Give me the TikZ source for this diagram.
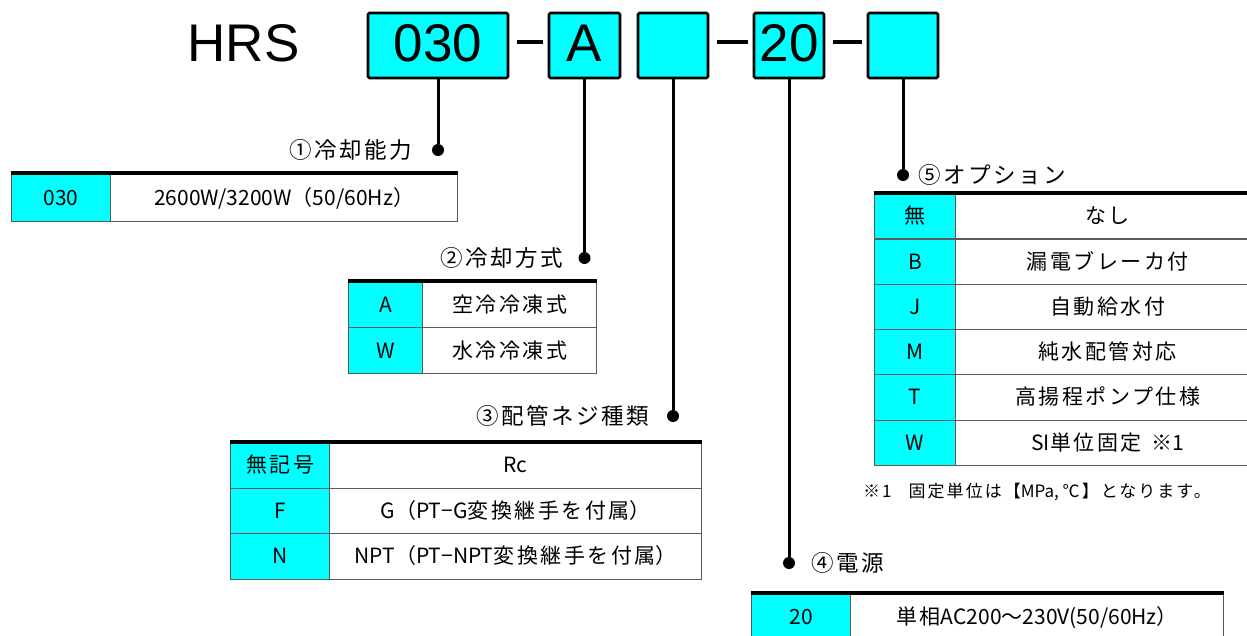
\documentclass[tikz,border=0pt]{standalone}
\usepackage{fontspec}
\setmainfont{Noto Sans CJK JP}
\newfontfamily\hrsfont{Liberation Sans}
\usepackage{tikz}
\usetikzlibrary{positioning}
\definecolor{aqua}{RGB}{0,255,255}
\definecolor{grisLinea}{RGB}{90,90,90}
\newcommand{\wj}[1]{{\addfontfeature{LetterSpace=12}#1}}
\newcommand{\codefont}{\hrsfont\fontsize{53}{60}\selectfont}
\newcommand{\tabfont}{\fontsize{21}{24}\selectfont}
\newcommand{\titlefont}{\fontsize{22.5}{26}\selectfont\addfontfeature{LetterSpace=11}}
\newcommand{\notefont}{\fontsize{17}{20}\selectfont}
\tikzstyle{codebox}=[rectangle, draw, line width=2.6pt, fill=aqua,
                    rounded corners=1.5pt, minimum height=65pt,
                    inner sep=0pt, text height=36pt, text depth=4pt,
                    font=\codefont]
\tikzstyle{hyph}  =[line width=4.5pt, shorten <=8pt, shorten >=5pt]
\tikzstyle{lead}  =[line width=3pt]
\tikzstyle{dot}   =[circle, fill=black, minimum size=12pt,
                    inner sep=0pt]
\tikzstyle{title} =[inner sep=0pt, text height=18pt, text depth=1pt,
                    font=\titlefont]
\tikzstyle{cell}  =[rectangle, draw=grisLinea, line width=1.2pt,
                    anchor=north west, inner sep=0pt,
                    text height=16pt, text depth=1pt, font=\tabfont]
\tikzstyle{keycell}=[cell, fill=aqua]
\tikzstyle{desccell}=[cell, fill=white]
\tikzstyle{topline}=[line width=3.2pt]
\begin{document}
\begin{tikzpicture}[x=1pt,y=-1pt]
    \useasboundingbox (0,0) rectangle (1247,635);
    \clip (0,0) rectangle (1247,635);

    % model code
    \draw (243.5,45.5) node (hrs) [inner sep=0pt, text height=36pt, text depth=4pt, font=\codefont] {HRS};
    \draw (438,45.5) node (c1) [codebox, minimum width=140pt] {030};
    \draw (584.5,45.5) node (c2) [codebox, minimum width=71pt] {A};
    \draw (673,45.5) node (c3) [codebox, minimum width=70pt] {};
    \draw (789,45.5) node (c4) [codebox, minimum width=70pt] {20};
    \draw (903,45.5) node (c5) [codebox, minimum width=70pt] {};

    \foreach \i/\j in {c1/c2,c3/c4,c4/c5}
        \draw [hyph] ([yshift=3.5pt]\i.east) -- ([yshift=3.5pt]\j.west);

    \draw (438,150) node (d1) [dot] {};
    \draw (584.5,258) node (d2) [dot] {};
    \draw (673,416) node (d3) [dot] {};
    \draw (789,563) node (d4) [dot] {};
    \draw (903,175) node (d5) [dot] {};

    \foreach \i/\j in {c1/d1,c2/d2,c3/d3,c4/d4,c5/d5}
        \draw [lead] (\i) -- (\j);

    \node (t1) [title, left=20pt of d1] {①冷却能力};
    \node (t2) [title, left=15pt of d2] {②冷却方式};
    \node (t3) [title, left=18pt of d3] {③配管ネジ種類};
    \node (t4) [title, right=16pt of d4] {④電源};
    \node (t5) [title, right=9pt of d5] {⑤オプション};

    % (1) cooling capacity
    \draw (11,173) node (k11) [keycell, minimum width=99pt, minimum height=48pt] {030};
    \draw (110,173) node (v11) [desccell, minimum width=347pt, minimum height=48pt] {2600W/3200W（50/60Hz）};
    \draw [topline] (k11.north west) -- (v11.north east);

    % (2) cooling method
    \draw (348,281) node (k21) [keycell, minimum width=74pt, minimum height=46pt] {A};
    \draw (422,281) node (v21) [desccell, minimum width=174pt, minimum height=46pt] {\wj{空冷冷凍式}};
    \draw (348,327) node (k22) [keycell, minimum width=74pt, minimum height=46pt] {W};
    \draw (422,327) node (v22) [desccell, minimum width=174pt, minimum height=46pt] {\wj{水冷冷凍式}};
    \draw [topline] (k21.north west) -- (v21.north east);

    % (3) piping thread
    \draw (230,442) node (k31) [keycell, minimum width=99pt, minimum height=45.5pt] {\wj{無記号}};
    \draw (329,442) node (v31) [desccell, minimum width=372pt, minimum height=45.5pt] {Rc};
    \draw (230,487.5) node (k32) [keycell, minimum width=99pt, minimum height=45.5pt] {F};
    \draw (329,487.5) node (v32) [desccell, minimum width=372pt, minimum height=45.5pt] {G（PT−G\wj{変換継手を付属}）};
    \draw (230,533) node (k33) [keycell, minimum width=99pt, minimum height=45.5pt] {N};
    \draw (329,533) node (v33) [desccell, minimum width=372pt, minimum height=45.5pt] {NPT（PT−NPT\wj{変換継手を付属}）};
    \draw [topline] (k31.north west) -- (v31.north east);

    % (4) power supply
    \draw (751,593) node (k41) [keycell, minimum width=99pt, minimum height=46pt] {20};
    \draw (850,593) node (v41) [desccell, minimum width=373pt, minimum height=46pt] {\wj{単相}AC200～230V(50/60Hz）};
    \draw [topline] (k41.north west) -- (v41.north east);

    % (5) options
    \draw (874,193) node (k51) [keycell, minimum width=81pt, minimum height=45.3pt] {\wj{無}};
    \draw (955,193) node (v51) [desccell, minimum width=304pt, minimum height=45.3pt] {\wj{なし}};
    \draw (874,238.3) node (k52) [keycell, minimum width=81pt, minimum height=45.3pt] {B};
    \draw (955,238.3) node (v52) [desccell, minimum width=304pt, minimum height=45.3pt] {\wj{漏電ブレーカ付}};
    \draw (874,283.6) node (k53) [keycell, minimum width=81pt, minimum height=45.3pt] {J};
    \draw (955,283.6) node (v53) [desccell, minimum width=304pt, minimum height=45.3pt] {\wj{自動給水付}};
    \draw (874,328.9) node (k54) [keycell, minimum width=81pt, minimum height=45.3pt] {M};
    \draw (955,328.9) node (v54) [desccell, minimum width=304pt, minimum height=45.3pt] {\wj{純水配管対応}};
    \draw (874,374.2) node (k55) [keycell, minimum width=81pt, minimum height=45.3pt] {T};
    \draw (955,374.2) node (v55) [desccell, minimum width=304pt, minimum height=45.3pt] {\wj{高揚程ポンプ仕様}};
    \draw (874,419.5) node (k56) [keycell, minimum width=81pt, minimum height=45.3pt] {W};
    \draw (955,419.5) node (v56) [desccell, minimum width=304pt, minimum height=45.3pt] {SI\wj{単位固定}\ \ ※1};
    \draw [topline] (k51.north west) -- (v51.north east);

    \draw (863,492) node (n5) [anchor=west, inner sep=0pt, font=\notefont] {\wj{※1}\quad\wj{固定単位は【}MPa, \wj{℃】となります。}};

\end{tikzpicture}
\end{document}
